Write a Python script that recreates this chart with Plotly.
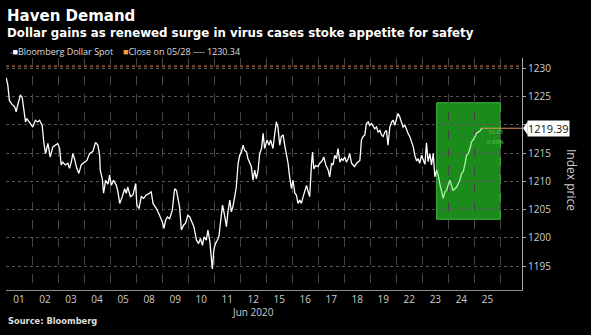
import plotly.graph_objects as go

# ---------------- data ----------------
day_labels = ["01", "02", "03", "04", "05", "08", "09", "10", "11", "12",
              "15", "16", "17", "18", "19", "22", "23", "24", "25"]

# position in trading days since 1 Jun open (fractional = intraday)
t = [0.01, 0.07, 0.13, 0.23, 0.33, 0.39, 0.45, 0.55, 0.62, 0.67, 0.75, 0.80, 0.90, 0.97,
     1.03, 1.13, 1.22, 1.29, 1.39, 1.45, 1.52, 1.61, 1.70, 1.80, 1.90, 1.99,
     2.06, 2.12, 2.18, 2.28, 2.38, 2.44, 2.51, 2.57, 2.63, 2.72, 2.80, 2.89,
     3.02, 3.11, 3.21, 3.34, 3.44, 3.53, 3.60, 3.62, 3.70, 3.75, 3.83, 3.92, 3.98,
     4.05, 4.13, 4.24, 4.30, 4.37, 4.47, 4.56, 4.62, 4.68, 4.78, 4.88, 4.98,
     5.03, 5.11, 5.20, 5.29, 5.39, 5.52, 5.58, 5.65, 5.78, 5.90,
     6.01, 6.07, 6.13, 6.20, 6.29, 6.39, 6.48, 6.55, 6.61, 6.67, 6.74, 6.83, 6.90, 6.99,
     7.06, 7.16, 7.22, 7.32, 7.40, 7.47, 7.55, 7.61, 7.70, 7.76, 7.83, 7.89, 7.93, 7.99,
     8.05, 8.11, 8.18, 8.24, 8.32, 8.40, 8.47, 8.53, 8.60, 8.66, 8.72, 8.79, 8.85, 8.92, 8.98,
     9.05, 9.11, 9.17, 9.24, 9.30, 9.37, 9.43, 9.49, 9.56, 9.62, 9.68, 9.75, 9.82, 9.88, 9.94,
     10.03, 10.11, 10.17, 10.26, 10.33, 10.39, 10.45, 10.52, 10.58, 10.65, 10.71, 10.78,
     10.84, 10.90, 10.97,
     11.03, 11.10, 11.16, 11.22, 11.29, 11.35, 11.42, 11.48, 11.55, 11.61, 11.67, 11.74,
     11.78, 11.83, 11.90, 11.99,
     12.06, 12.16, 12.21, 12.29, 12.38, 12.44, 12.51, 12.57, 12.63, 12.70, 12.76, 12.83,
     12.89, 12.95,
     13.02, 13.08, 13.15, 13.21, 13.28, 13.34, 13.40, 13.47, 13.53, 13.60, 13.66, 13.72,
     13.79, 13.85, 13.92, 13.98,
     14.05, 14.11, 14.17, 14.24, 14.30, 14.37, 14.43, 14.49, 14.56, 14.62, 14.68, 14.75,
     14.82, 14.88, 14.94,
     15.01, 15.07, 15.13, 15.20, 15.26, 15.33, 15.39, 15.45, 15.52, 15.58, 15.65, 15.71,
     15.78, 15.84, 15.90, 15.97,
     16.03, 16.10, 16.16, 16.22, 16.29, 16.35, 16.42, 16.48, 16.55, 16.61, 16.67, 16.74,
     16.80, 16.87, 16.93, 16.99,
     17.06, 17.12, 17.18, 17.25, 17.32, 17.38, 17.44, 17.51, 17.57, 17.63, 17.70, 17.76,
     17.83, 17.89, 17.95,
     18.02, 18.08, 18.15, 18.21, 18.29]

price = [1228.3, 1227.0, 1224.3, 1223.6, 1223.2, 1222.3, 1223.5, 1225.2, 1224.9, 1222.9, 1220.5, 1221.1, 1220.5, 1219.9,
         1219.6, 1220.8, 1220.5, 1220.8, 1219.9, 1217.0, 1214.9, 1216.7, 1214.3, 1216.1, 1216.4, 1216.7,
         1215.8, 1212.9, 1213.4, 1212.9, 1213.2, 1212.3, 1213.4, 1214.9, 1214.0, 1212.3, 1211.4, 1212.9,
         1213.4, 1213.7, 1214.9, 1215.3, 1216.9, 1216.4, 1214.6, 1212.0, 1210.5, 1207.9, 1210.2, 1209.5, 1211.1,
         1209.3, 1210.2, 1209.3, 1208.2, 1206.1, 1207.3, 1208.7, 1207.9, 1209.0, 1207.3, 1207.6, 1209.6,
         1205.8, 1205.2, 1207.3, 1207.0, 1207.6, 1207.9, 1208.2, 1206.1, 1205.2, 1204.0,
         1202.8, 1201.7, 1203.1, 1203.7, 1203.4, 1204.9, 1208.7, 1208.4, 1207.0, 1205.5, 1201.4, 1202.3, 1202.6, 1204.0,
         1203.7, 1202.8, 1202.0, 1199.6, 1199.0, 1199.9, 1198.7, 1200.2, 1199.6, 1201.4, 1199.5, 1196.5, 1194.5, 1198.0,
         1199.0, 1199.5, 1200.2, 1202.6, 1205.8, 1204.0, 1202.0, 1204.6, 1206.7, 1204.6, 1205.5, 1207.3, 1209.0, 1213.2, 1214.6,
         1215.2, 1216.4, 1215.5, 1215.2, 1214.0, 1213.2, 1212.6, 1210.2, 1212.0, 1210.5, 1211.7, 1214.9, 1215.8, 1218.5, 1215.8,
         1217.3, 1216.4, 1217.3, 1215.8, 1218.5, 1220.5, 1219.6, 1216.4, 1217.9, 1218.2, 1216.4, 1214.9,
         1213.2, 1210.8, 1208.7,
         1210.2, 1207.9, 1207.6, 1206.1, 1206.7, 1206.1, 1207.3, 1208.4, 1209.3, 1208.2, 1207.3, 1213.0,
         1215.2, 1212.2, 1212.8, 1212.6,
         1213.2, 1213.7, 1214.3, 1212.9, 1212.0, 1210.8, 1213.2, 1212.9, 1214.6, 1214.0, 1215.8, 1213.4,
         1214.0, 1213.7,
         1214.3, 1213.4, 1214.0, 1214.9, 1213.2, 1212.9, 1212.6, 1213.2, 1213.4, 1213.7, 1217.3, 1217.9,
         1218.2, 1220.2, 1220.5, 1219.9,
         1220.2, 1219.6, 1219.3, 1219.6, 1218.7, 1219.0, 1218.2, 1217.9, 1218.7, 1219.0, 1216.4, 1219.6,
         1220.5, 1220.8, 1219.9,
         1221.1, 1222.0, 1221.4, 1220.5, 1219.6, 1219.9, 1219.0, 1218.5, 1217.9, 1217.0, 1216.1, 1214.6,
         1213.6, 1214.0, 1213.2, 1214.6,
         1213.7, 1213.0, 1216.8, 1213.5, 1214.9, 1212.9, 1214.9, 1210.8, 1212.0, 1211.1, 1209.6, 1208.2,
         1207.0, 1208.2, 1208.4, 1209.3,
         1210.2, 1209.3, 1208.4, 1208.7, 1209.0, 1209.6, 1210.2, 1211.4, 1211.7, 1212.9, 1214.6, 1214.9,
         1215.8, 1217.0, 1217.3,
         1217.9, 1218.5, 1218.7, 1218.9, 1219.39]

close_0528 = 1230.34
last_value = 1219.39
change_abs = "10.95"
change_pct = "0.89%"
highlight_start = 16.55
highlight_end = 19.0
highlight_low = 1203.3
highlight_high = 1223.9
y_ticks = [1195, 1200, 1205, 1210, 1215, 1220, 1225, 1230]
# the 1220 label is hidden behind the last-value tag in the original
y_tick_text = ["1195", "1200", "1205", "1210", "1215", "", "1225", "1230"]

# ---------------- figure ----------------
X_MAX = 19.83
Y_MIN, Y_MAX = 1190.8, 1231.8

white_t = [a for a in t if a <= highlight_start]
white_p = price[:len(white_t)]
green_t = t[len(white_t) - 1:]
green_p = price[len(white_t) - 1:]

fig = go.Figure()
fig.add_trace(go.Scatter(x=white_t, y=white_p, mode="lines",
                         line=dict(color="#ffffff", width=1.3), showlegend=False,
                         hoverinfo="skip"))
fig.add_trace(go.Scatter(x=green_t, y=green_p, mode="lines",
                         line=dict(color="#a8f5a0", width=1.3), showlegend=False,
                         hoverinfo="skip"))

shapes = [
    dict(type="rect", xref="x", yref="y", x0=highlight_start, x1=highlight_end,
         y0=highlight_low, y1=highlight_high, fillcolor="#1b8c1b",
         line=dict(color="#3fb83f", width=1), layer="below"),
    dict(type="line", xref="paper", yref="y", x0=0, x1=1, y0=close_0528, y1=close_0528,
         line=dict(color="#7e4c2c", width=2, dash="dot"), layer="above"),
    dict(type="line", xref="x", yref="y", x0=t[-1], x1=X_MAX, y0=last_value, y1=last_value,
         line=dict(color="#e8955a", width=1), layer="above"),
    dict(type="path", xref="paper", yref="y",
         path=f"M 1.002,{last_value} L 1.011,{last_value + 1.2} L 1.011,{last_value - 1.2} Z",
         fillcolor="#ffffff", line=dict(width=0)),
]

annotations = [
    dict(text="<b>Haven Demand</b>", xref="paper", yref="paper", x=-0.002, y=1.181,
         xanchor="left", yanchor="middle", showarrow=False,
         font=dict(family="DejaVu Sans", size=15, color="#ffffff")),
    dict(text="<b>Dollar gains as renewed surge in virus cases stoke appetite for safety</b>",
         xref="paper", yref="paper", x=-0.002, y=1.108, xanchor="left", yanchor="middle",
         showarrow=False, font=dict(family="DejaVu Sans", size=11.8, color="#ffffff")),
    dict(text='<span style="color:#888888;font-size:7px">▫</span><span style="color:#ffffff">■</span>Bloomberg Dollar Spot',
         xref="paper", yref="paper", x=0.004, y=1.030, xanchor="left", yanchor="middle",
         showarrow=False, font=dict(family="Open Sans", size=9, color="#dddddd")),
    dict(text=f'<span style="color:#f0a030">■</span>Close on 05/28 ---- {close_0528}',
         xref="paper", yref="paper", x=0.222, y=1.030, xanchor="left", yanchor="middle",
         showarrow=False, font=dict(family="Open Sans", size=9, color="#dddddd")),
    dict(text="Jun 2020", xref="x", yref="paper", x=9.5, y=-0.095, xanchor="center",
         yanchor="middle", showarrow=False,
         font=dict(family="Open Sans", size=10, color="#cccccc")),
    dict(text="<b>Source: Bloomberg</b>", xref="paper", yref="paper", x=0.0, y=-0.134,
         xanchor="left", yanchor="middle", showarrow=False,
         font=dict(family="DejaVu Sans", size=8.3, color="#dddddd")),
    dict(text="Index price", xref="paper", yref="paper", x=1.097, y=0.474, textangle=90,
         xanchor="center", yanchor="middle", showarrow=False,
         font=dict(family="Open Sans", size=12, color="#cccccc")),
    dict(text=f"{last_value:.2f}", xref="paper", yref="y", x=1.010, y=last_value,
         xanchor="left", yanchor="middle", showarrow=False, bgcolor="#ffffff",
         borderpad=0, font=dict(family="Open Sans", size=11, color="#111111")),
    dict(text=change_abs, xref="x", yref="y", x=18.45, y=1218.7, xanchor="left",
         yanchor="middle", showarrow=False,
         font=dict(family="Open Sans", size=6, color="#5fc45f")),
    dict(text=change_pct, xref="x", yref="y", x=18.42, y=1217.0, xanchor="left",
         yanchor="middle", showarrow=False,
         font=dict(family="Open Sans", size=6, color="#5fc45f")),
]

fig.update_layout(
    width=591, height=335,
    margin=dict(l=6, r=69, t=58, b=45),
    paper_bgcolor="#000000", plot_bgcolor="#000000",
    shapes=shapes, annotations=annotations, showlegend=False,
    xaxis=dict(range=[0, X_MAX], tickmode="array",
               tickvals=[i + 0.5 for i in range(len(day_labels))], ticktext=day_labels,
               showgrid=False, zeroline=False, ticks="",
               showline=True, linecolor="#8a8a8a", linewidth=1,
               tickfont=dict(family="Open Sans", size=10, color="#cccccc"),
               minor=dict(tickmode="array", tickvals=list(range(len(day_labels) + 1)),
                          showgrid=True, gridcolor="#444444", griddash="dash",
                          gridwidth=1, ticks="")),
    yaxis=dict(range=[Y_MIN, Y_MAX], side="right", tickmode="array", tickvals=y_ticks,
               ticktext=y_tick_text,
               showgrid=True, gridcolor="#555555", griddash="dot", gridwidth=1,
               zeroline=False, ticks="outside", ticklen=3, tickcolor="#aaaaaa",
               showline=True, linecolor="#aaaaaa", linewidth=1,
               tickfont=dict(family="Open Sans", size=10, color="#cccccc")),
)

fig.write_html("out.html")
